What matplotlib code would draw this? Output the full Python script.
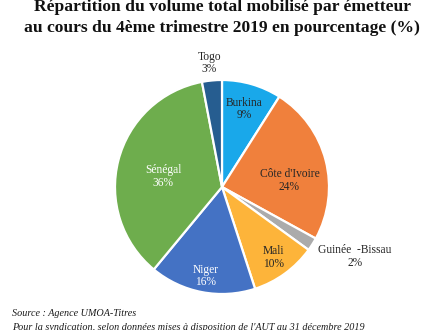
import matplotlib
matplotlib.use("Agg")
import matplotlib.pyplot as plt

# Répartition par émetteur (en %), sens horaire depuis midi
emetteurs = ["Burkina", "Côte d'Ivoire", "Guinée  -Bissau", "Mali", "Niger", "Sénégal", "Togo"]
parts = [9, 24, 2, 10, 16, 36, 3]

couleurs = ["#19A8EA", "#F0803C", "#ABABAB", "#FDB43A", "#4472C4", "#6EAD4D", "#265D90"]
couleurs_texte = ["#262626", "#262626", "#262626", "#262626", "white", "white", "#262626"]
# Position des étiquettes (unités du rayon)
pos_etiquettes = [(0.21, 0.73), (0.63, 0.06), (1.24, -0.65), (0.48, -0.66),
                  (-0.15, -0.83), (-0.55, 0.10), (-0.12, 1.16)]

titre = ["Répartition du volume total mobilisé par émetteur",
         "au cours du 4ème trimestre 2019 en pourcentage (%)"]
notes = ["Source : Agence UMOA-Titres",
         "Pour la syndication, selon données mises à disposition de l'AUT au 31 décembre 2019"]

W, H, DPI = 425, 330, 100
fig = plt.figure(figsize=(W / DPI, H / DPI), dpi=DPI)
fig.patch.set_facecolor("white")

serif = ["Liberation Serif", "DejaVu Serif"]

# Camembert centré à (222, 187) px, rayon 107 px
cx, cy, r = 222, 187, 107
ax = fig.add_axes([(cx - r) / W, 1 - (cy + r) / H, 2 * r / W, 2 * r / H])
ax.pie(parts, colors=couleurs, startangle=90, counterclock=False, radius=1,
       wedgeprops=dict(edgecolor="white", linewidth=1.6))
ax.set_xlim(-1, 1)
ax.set_ylim(-1, 1)
ax.set_aspect("equal")
ax.axis("off")

for nom, val, (x, y), c in zip(emetteurs, parts, pos_etiquettes, couleurs_texte):
    ax.text(x, y, f"{nom}\n{val}%", ha="center", va="center", color=c,
            fontsize=8.3, family=serif, linespacing=1.05, clip_on=False)

# Titre sur deux lignes (lignes de base à 11 et 32 px)
for ligne, yb in zip(titre, [11, 32]):
    fig.text(222 / W, 1 - yb / H, ligne, ha="center", va="baseline",
             fontsize=12.6, fontweight="bold", family=serif, color="#111111")

# Notes de bas de page
for ligne, yc in zip(notes, [314, 327]):
    fig.text(12 / W, 1 - yc / H, ligne, ha="left", va="center", fontsize=7.3,
             style="italic", family=serif, color="#1A1A1A")

fig.savefig("out.png", dpi=DPI, facecolor="white")
